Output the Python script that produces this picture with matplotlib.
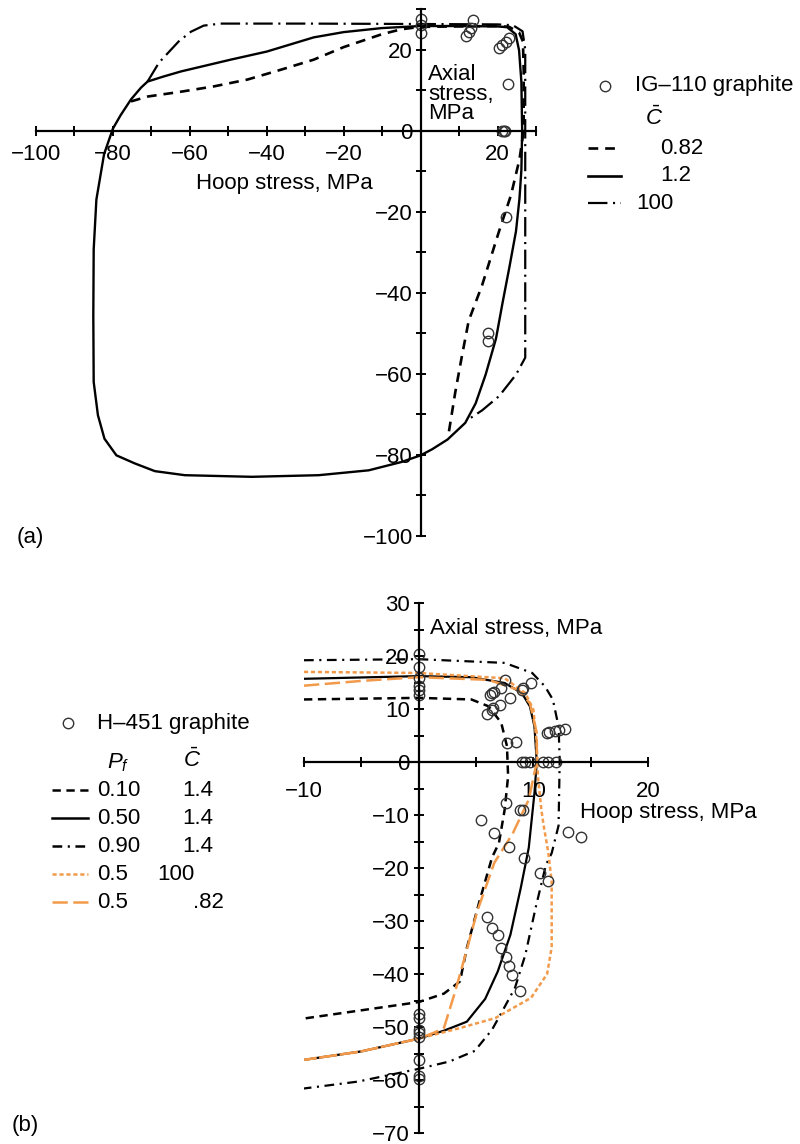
import matplotlib
matplotlib.use("Agg")
import matplotlib.pyplot as plt
from matplotlib.lines import Line2D
import numpy as np

plt.rcParams['font.family'] = ['Liberation Sans', 'DejaVu Sans']
plt.rcParams['mathtext.fontset'] = 'custom'
plt.rcParams['mathtext.rm'] = 'Liberation Sans'
plt.rcParams['mathtext.it'] = 'Liberation Sans:italic'
plt.rcParams['lines.scale_dashes'] = False

ORANGE = '#F29A4A'
M = '\u2212'

# ---- panel (a): IG-110 graphite ----
a_c12_x = [26.4, 26.2, 25.6, 24.7, 22.5, 20, 10, 0, -10, -20, -27.8, -40, -49.4, -62.3, -67, -71,
           -72.7, -75.3, -78, -80, -82.3, -84.3, -85, -85.1, -85, -83.9, -82.2, -79.1,
           -74.3, -69.1, -61.3, -43.9, -26.5, -13.5, -4.8, 0, 3, 7, 11.6, 14.3, 16.9, 19.6,
           21.3, 23.1, 24.8, 25.7, 26.2, 26.4]
a_c12_y = [0, 12, 19.8, 23.8, 25.5, 25.7, 25.8, 25.8, 25.3, 24.3, 23, 19.5, 17.5, 14.6, 13.3, 12.1,
           10.6, 7.7, 3.8, 0.5, -5.8, -17, -29.3, -45.7, -62, -70.2, -76, -80.1,
           -82.1, -84, -85, -85.4, -85, -83.8, -81.7, -80.1, -78.6, -76.2, -72.1, -67.3, -60.2, -51.3,
           -42.5, -33.6, -24.8, -16.8, -9.7, 0]

a_c082_x = [-75.3, -71, -62.3, -53.8, -45, -36.4, -27.8, -20, -10, -5, 0, 10, 20, 23, 25.6, 26.6,
            26.8, 26.8, 25.7, 23.5, 20.4, 16, 12.5, 10.7, 9, 7.2]
a_c082_y = [7.2, 8.4, 9.6, 10.9, 12.6, 15, 17.5, 20.6, 23.8, 25.0, 25.6, 25.7, 25.8, 25.6, 24.2, 22,
            15, 0, -7.1, -15.9, -24.8, -38.1, -46.9, -55.8, -64.6, -75.2]

a_c100_x = [-71, -68, -62.9, -59.7, -56.4, -52, -30, 0, 20, 24, 26.5, 27.2, 27.2, 27.2,
            24.8, 20.4, 16, 12]
a_c100_y = [12.1, 16.8, 22, 24.4, 25.9, 26.4, 26.4, 26.3, 26.2, 26, 24.5, 20, 0, -56,
            -60.2, -65.5, -69, -71.5]

a_pts_x = [0, 0, 0, 11.8, 12.5, 13.2, 13.5, 20.3, 21.2, 22.1, 22.9, 22.6, 21.2, 21.6, 22.0,
           22.2, 17.6, 17.6]
a_pts_y = [27.6, 26, 24, 23.4, 24.4, 25.3, 27.2, 20.3, 21.1, 21.9, 22.8, 11.4, 0, 0, 0,
           -21.3, -50, -51.8]

# ---- panel (b): H-451 graphite ----
b_p10_x = [-10, 0, 4.6, 6.1, 7.2, 7.7, 7.8, 7.5, 7, 6.4, 5.3, 4.2, 3.6, 2.2, 0, -10]
b_p10_y = [11.8, 12.1, 11.8, 10.5, 7.4, 3, -2.7, -9, -15.3, -18, -26.3, -35.1, -41.4, -43.7, -45.3, -48.4]

b_p50_x = [-10, 0, 4.6, 7.5, 9, 9.7, 10.1, 10.3, 10.1, 9.6, 8.9, 8, 6.9, 5.8, 4.2, 2.2, 0, -5, -10]
b_p50_y = [15.7, 16.2, 16, 14.9, 13, 10.5, 6.7, 0, -5.8, -16.2, -23.8, -32.6, -39.5, -44.7, -49,
           -50.7, -52.2, -54.6, -56.2]

b_p90_x = [-10, 0, 7.5, 9.9, 11, 11.7, 12.2, 12.3, 12.2, 11.6, 11.1, 10.2, 9.3, 8.4, 7.3, 6.4,
           4.9, 2.7, 0, -5.3, -10]
b_p90_y = [19.2, 19.4, 18.7, 16.8, 14.3, 11.8, 6.7, 0.4, -12, -17.2, -19.4, -27.5, -36.4, -42.6,
           -47, -50.5, -54.5, -56.5, -57.9, -60.3, -61.6]

b_c100_x = [-10, 0, 7.5, 9.3, 10, 10.3, 10.4, 10.7, 10.9, 11.3, 11.6, 11.6, 11.2, 9.8, 6.7, 3.6,
            0, -5, -10]
b_c100_y = [17, 16.8, 15.8, 13, 9.9, 3.6, -2.7, -9, -12, -17, -22.5, -35, -40, -44.5, -48.3,
            -50.2, -52.2, -54.6, -56.2]

b_c082_x = [-10, -5, 0, 6.1, 8.7, 9.7, 10.3, 10.3, 9.6, 8.2, 6.6, 5.1, 4, 3.1, 2.2, 1.3, 0, -5, -10]
b_c082_y = [14.4, 15.3, 16, 15.5, 13.6, 11.1, 5.5, 0, -7.1, -13.5, -19, -28.2, -37, -43.9, -50.2,
            -51.1, -52.2, -54.6, -56.2]

b_pts_x = [0, 0, 0, 0, 0, 0, 7.5, 6.4, 6.2, 6.6, 7.2, 9.0, 9.1, 9.8, 8.0, 7.1, 6.5, 6.4, 6.0,
           7.7, 8.5, 11.2, 11.4, 11.9, 12.2, 12.8, 9.0, 9.3, 9.7, 10.8, 11.3, 12.0,
           7.6, 8.8, 9.1, 5.4, 6.6, 7.9, 13.0, 14.2, 9.2, 10.6, 11.3,
           6.0, 6.4, 6.9, 7.2, 7.6, 7.9, 8.1, 8.8,
           0, 0, 0, 0, 0, 0, 0, 0]
b_pts_y = [20.3, 18, 15.8, 14.3, 13.6, 12.7, 15.4, 13, 12.7, 13.3, 14, 13.6, 14, 14.9, 12.1, 10.8,
           10.2, 9.9, 9.1, 3.5, 3.8, 5.5, 5.6, 5.8, 6, 6.3, 0, 0, 0, 0, 0, 0,
           -7.7, -9, -9.1, -11, -13.4, -16, -13.3, -14.2, -18.2, -20.9, -22.5,
           -29.3, -31.3, -32.7, -35.1, -36.7, -38.4, -40.1, -43.3,
           -47.5, -48.3, -50.5, -51.1, -51.8, -56.2, -59.3, -59.9]

a_ticks = list(range(-100, 31, 10))
b_xticks = list(range(-10, 21, 5))
b_yticks = list(range(-70, 31, 5))

FS = 16
W, H = 800, 1144


def fx(p):
    return p / W


def fy(p):
    return 1 - p / H


def lab(v):
    return str(v).replace('-', M)


def cross_axes(ax):
    ax.spines['left'].set_position(('data', 0))
    ax.spines['bottom'].set_position(('data', 0))
    ax.spines['right'].set_visible(False)
    ax.spines['top'].set_visible(False)
    for s in ['left', 'bottom']:
        ax.spines[s].set_linewidth(1.6)
    ax.patch.set_visible(False)


fig = plt.figure(figsize=(8, 11.44), dpi=100)

# panel (a)
ax1 = fig.add_axes([fx(36), fy(536), 500 / W, 527 / H])
ax1.set_xlim(-100, 30)
ax1.set_ylim(-100, 30)
cross_axes(ax1)
ax1.set_xticks(a_ticks)
ax1.set_xticklabels([lab(t) if (t % 20 == 0 and t != 0) else '' for t in a_ticks])
ax1.set_yticks(a_ticks)
ax1.set_yticklabels([lab(t) if t % 20 == 0 else '' for t in a_ticks])
ax1.tick_params(axis='both', direction='inout', length=7, width=1.4, labelsize=FS)
ax1.tick_params(axis='x', pad=6)
ax1.tick_params(axis='y', pad=2)

ax1.plot(a_c12_x, a_c12_y, color='black', lw=1.7, solid_joinstyle='round')
ax1.plot(a_c082_x, a_c082_y, color='black', lw=1.9, linestyle=(0, (7, 5)))
ax1.plot(a_c100_x, a_c100_y, color='black', lw=1.6, linestyle=(0, (14, 4, 1.5, 4)))
ax1.plot(a_pts_x, a_pts_y, linestyle='none', marker='o', ms=7.5, mfc='none', mec='#333333', mew=1.0)

ax1.text(-58.5, -13, 'Hoop stress, MPa', fontsize=FS, ha='left', va='center')
ax1.text(2, 9, 'Axial\nstress,\nMPa', fontsize=FS, ha='left', va='center', linespacing=0.9)

# panel (b)
ax2 = fig.add_axes([fx(304), fy(1133), 344 / W, 530 / H])
ax2.set_xlim(-10, 20)
ax2.set_ylim(-70, 30)
cross_axes(ax2)
ax2.set_xticks(b_xticks)
ax2.set_xticklabels([lab(t) if (t % 10 == 0 and t != 0) else '' for t in b_xticks])
ax2.set_yticks(b_yticks)
ax2.set_yticklabels([lab(t) if t % 10 == 0 else '' for t in b_yticks])
ax2.tick_params(axis='both', direction='inout', length=7, width=1.4, labelsize=FS)
ax2.tick_params(axis='x', pad=10)
ax2.tick_params(axis='y', pad=3)

ax2.plot(b_p50_x, b_p50_y, color='black', lw=1.6)
ax2.plot(b_p10_x, b_p10_y, color='black', lw=1.8, linestyle=(0, (6, 4)))
ax2.plot(b_p90_x, b_p90_y, color='black', lw=1.6, linestyle=(0, (7, 4, 1.5, 4)))
ax2.plot(b_c100_x, b_c100_y, color=ORANGE, lw=1.8, linestyle=(0, (3, 2)))
ax2.plot(b_c082_x, b_c082_y, color=ORANGE, lw=1.8, linestyle=(0, (11, 4)))
ax2.plot(b_pts_x, b_pts_y, linestyle='none', marker='o', ms=7.5, mfc='none', mec='#333333', mew=1.0)

ax2.text(1, 25.2, 'Axial stress, MPa', fontsize=FS, ha='left', va='center')
ax2.text(14.1, -9.6, 'Hoop stress, MPa', fontsize=FS, ha='left', va='center')

# legend (a)
fig.add_artist(Line2D([fx(605)], [fy(86)], marker='o', ms=7.5, mfc='none', mec='#333333', mew=1.0))
fig.text(fx(635), fy(86), 'IG\u2013110 graphite', fontsize=FS, va='center')
fig.text(fx(645), fy(118), r'$\bar{C}$', fontsize=FS, va='center')
leg_a = [((0, (7, 5)), 1.9, '0.82', 660), ('-', 1.9, '1.2', 660), ((0, (14, 4, 1.5, 4)), 1.6, '100', 636)]
for i, (ls, lw, txt, tx) in enumerate(leg_a):
    yy = 148 + i * 27.5
    fig.add_artist(Line2D([fx(588), fx(621)], [fy(yy), fy(yy)], color='black', lw=lw, linestyle=ls))
    fig.text(fx(tx), fy(yy), txt, fontsize=FS, va='center')

fig.text(fx(17), fy(538), '(a)', fontsize=FS, va='center')

# legend (b)
fig.add_artist(Line2D([fx(68)], [fy(723)], marker='o', ms=7.5, mfc='none', mec='#333333', mew=1.0))
fig.text(fx(97), fy(723), 'H\u2013451 graphite', fontsize=FS, va='center')
fig.text(fx(107), fy(763), r'$P_f$', fontsize=FS, va='center')
fig.text(fx(183), fy(760), r'$\bar{C}$', fontsize=FS, va='center')
leg_b = [('black', (0, (6, 4)), '0.10', '1.4', 182),
         ('black', '-', '0.50', '1.4', 182),
         ('black', (0, (7, 4, 1.5, 4)), '0.90', '1.4', 182),
         (ORANGE, (0, (3, 2)), '0.5', '100', 157),
         (ORANGE, (0, (11, 4)), '0.5', '.82', 193)]
for i, (c, ls, t1, t2, tx) in enumerate(leg_b):
    yy = 790 + i * 28
    fig.add_artist(Line2D([fx(52), fx(88)], [fy(yy), fy(yy)], color=c, lw=1.8, linestyle=ls))
    fig.text(fx(97), fy(yy), t1, fontsize=FS, va='center')
    fig.text(fx(tx), fy(yy), t2, fontsize=FS, va='center')

fig.text(fx(12), fy(1126), '(b)', fontsize=FS, va='center')

fig.savefig('out.png', dpi=100)
